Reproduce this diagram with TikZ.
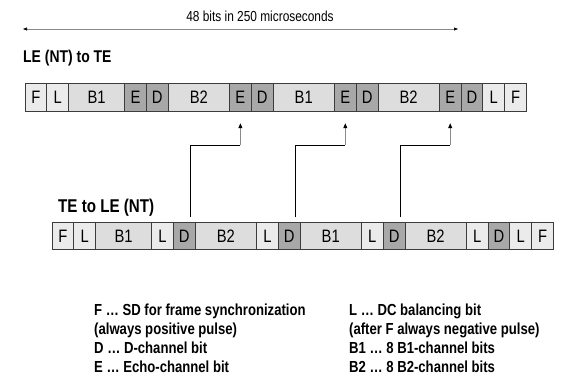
\documentclass[tikz,border=0pt]{standalone}
\usepackage{fontspec}
\setmainfont{Liberation Sans}[FakeStretch=0.82]
\usetikzlibrary{arrows.meta}
\definecolor{cellLight}{HTML}{EBEBEB}
\definecolor{cellB}{HTML}{DDDDDD}
\definecolor{cellDark}{HTML}{A8A8A8}
\definecolor{cellEdge}{HTML}{3C3C3C}
\definecolor{lineGray}{HTML}{8A8A8A}
\begin{document}
\begin{tikzpicture}[x=1pt,y=1pt,
  cell/.style={draw=cellEdge, line width=0.9pt, minimum height=27.5pt, inner sep=0pt, outer sep=0pt, anchor=west, font=\fontsize{18}{18}\selectfont},
  lt/.style={cell, fill=cellLight, minimum width=21.8pt},
  dk/.style={cell, fill=cellDark, minimum width=21.8pt},
  bb/.style={cell, fill=cellB, minimum width=61.3pt},
  bf/.style={cell, fill=cellB, minimum width=56pt},
  conn/.style={line width=0.8pt, black},
  uparr/.style={line width=0.8pt, lineGray, -{Triangle[length=5pt,width=4pt,color=black]}},
  dim/.style={line width=0.6pt, lineGray, {Triangle[length=4pt,width=3pt,color=black]}-{Triangle[length=4pt,width=3pt,color=black]}},
  title/.style={anchor=base west, inner sep=0pt, font=\bfseries\fontsize{17}{17}\selectfont},
  legend/.style={anchor=base west, inner sep=0pt, font=\bfseries\fontsize{16}{16}\selectfont}
]
\useasboundingbox (0,0) rectangle (576,-387);

% dimension arrow
\coordinate (dl) at (23,-29);
\coordinate (dr) at (458,-29);
\draw[dim] (dl) -- (dr);
\node[anchor=base, inner sep=0pt, font=\fontsize{14.5}{14.5}\selectfont] (dimtxt) at (260,-21.7) {48 bits in 250 microseconds};

% labels
\node[title] (lab1) at (23,-63) {LE (NT) to TE};
\node[title, font=\bfseries\fontsize{18.5}{18.5}\selectfont] (lab2) at (58,-212.5) {TE to LE (NT)};

% top row
\node[lt] (t1) at (25,-97.5) {F};
\node[lt] (t2) at (t1.east) {L};
\node[bf] (t3) at (t2.east) {B1};
\node[dk] (t4) at (t3.east) {E};
\node[dk] (t5) at (t4.east) {D};
\node[bb] (t6) at (t5.east) {B2};
\node[dk] (t7) at (t6.east) {E};
\node[dk] (t8) at (t7.east) {D};
\node[bb] (t9) at (t8.east) {B1};
\node[dk] (t10) at (t9.east) {E};
\node[dk] (t11) at (t10.east) {D};
\node[bb] (t12) at (t11.east) {B2};
\node[dk] (t13) at (t12.east) {E};
\node[dk] (t14) at (t13.east) {D};
\node[lt] (t15) at (t14.east) {L};
\node[lt] (t16) at (t15.east) {F};

% bottom row
\node[lt] (b1) at (52,-236) {F};
\node[lt] (b2) at (b1.east) {L};
\node[bf] (b3) at (b2.east) {B1};
\node[lt] (b4) at (b3.east) {L};
\node[dk] (b5) at (b4.east) {D};
\node[bb] (b6) at (b5.east) {B2};
\node[lt] (b7) at (b6.east) {L};
\node[dk] (b8) at (b7.east) {D};
\node[bb] (b9) at (b8.east) {B1};
\node[lt] (b10) at (b9.east) {L};
\node[dk] (b11) at (b10.east) {D};
\node[bb] (b12) at (b11.east) {B2};
\node[lt] (b13) at (b12.east) {L};
\node[dk] (b14) at (b13.east) {D};
\node[lt] (b15) at (b14.east) {L};
\node[lt] (b16) at (b15.east) {F};

% connectors
\foreach \src/\dst in {b5/t7, b8/t10, b11/t13} {
  \draw[conn] ([xshift=6pt,yshift=5pt]\src.north) |- ([yshift=-34pt]\dst.south);
  \draw[uparr] ([yshift=-34pt]\dst.south) -- ([yshift=-12pt]\dst.south);
}

% legend
\node[legend] (lg1) at (94,-316) {F … SD for frame synchronization};
\node[legend] (lg2) at (94,-334.8) {(always positive pulse)};
\node[legend] (lg3) at (94,-353.6) {D … D-channel bit};
\node[legend] (lg4) at (94,-372.4) {E … Echo-channel bit};
\node[legend] (lg5) at (349,-316) {L … DC balancing bit};
\node[legend] (lg6) at (349,-334.8) {(after F always negative pulse)};
\node[legend] (lg7) at (349,-353.6) {B1 … 8 B1-channel bits};
\node[legend] (lg8) at (349,-372.4) {B2 … 8 B2-channel bits};
\end{tikzpicture}
\end{document}
